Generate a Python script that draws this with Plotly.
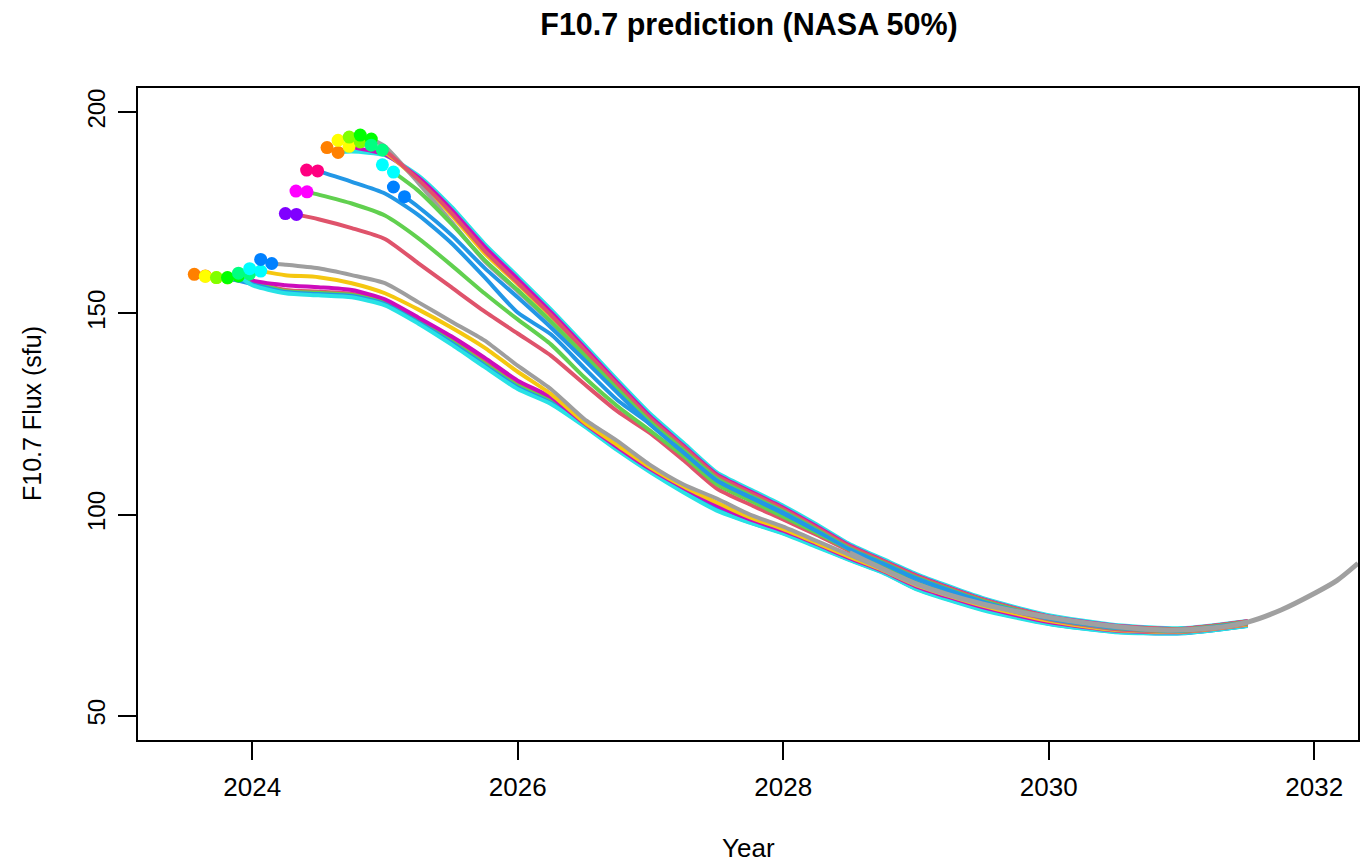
import plotly.graph_objects as go

# ---------------- data ----------------
grid = [2024.0, 2024.25, 2024.5, 2024.75, 2025.0, 2025.25, 2025.5, 2025.75,
        2026.0, 2026.25, 2026.5, 2026.75, 2027.0, 2027.25, 2027.5, 2027.75,
        2028.0, 2028.25, 2028.5, 2028.75, 2029.0, 2029.5, 2030.0, 2030.5,
        2031.0, 2031.5]

# start month of each forecast (first marker), and the two marker values
start_year = [2023.564, 2023.647, 2023.731, 2023.814, 2023.897, 2023.981, 2024.064,
              2024.25, 2024.33, 2024.41,
              2024.564, 2024.647, 2024.731, 2024.814, 2024.897, 2024.981, 2025.064]
marker_v1 = [159.7, 159.2, 158.9, 158.9, 160.0, 161.1, 163.4,
             174.8, 180.4, 185.6,
             191.2, 193.0, 193.8, 194.3, 191.8, 186.9, 181.4]
marker_v2 = [159.3, 158.9, 158.8, 159.3, 159.8, 160.5, 162.4,
             174.6, 180.2, 185.4,
             190.0, 191.5, 192.6, 193.3, 190.6, 185.1, 179.0]
marker_colors = ["#FF8000", "#FFFF00", "#80FF00", "#00FF00", "#00FF80", "#00FFFF", "#0080FF",
                 "#8000FF", "#FF00FF", "#FF0080",
                 "#FF8000", "#FFFF00", "#80FF00", "#00FF00", "#00FF80", "#00FFFF", "#0080FF"]
line_colors = ["#DF536B", "#61D04F", "#2297E6", "#28E2E5", "#CD0BBC", "#F5C710", "#9E9E9E",
               "#DF536B", "#61D04F", "#2297E6",
               "#28E2E5", "#CD0BBC", "#F5C710", "#9E9E9E", "#DF536B", "#61D04F", "#2297E6"]

N = None
s01 = [157.8, 155.8, 155.4, 154.9, 153.0, 148.5, 143.6, 138.0, 132.4, 128.6, 122.6, 116.7, 111.2, 106.3, 102.0, 98.5, 95.8, 92.5, 89.1, 85.9, 82.0, 76.8, 73.2, 71.1, 70.7, 72.5]
s02 = [157.6, 155.5, 155.1, 154.6, 152.6, 148.1, 143.1, 137.5, 132.0, 128.2, 122.4, 116.5, 111.0, 106.1, 101.7, 98.3, 95.6, 92.3, 88.9, 85.8, 81.8, 76.6, 73.0, 71.0, 70.6, 72.4]
s03 = [157.3, 155.3, 154.8, 154.3, 152.3, 147.8, 142.7, 137.1, 131.6, 127.8, 122.2, 116.3, 110.8, 105.8, 101.3, 98.1, 95.4, 92.2, 88.8, 85.7, 81.6, 76.5, 72.9, 70.9, 70.5, 72.4]
s04 = [157.0, 155.0, 154.5, 154.0, 152.0, 147.5, 142.3, 136.7, 131.2, 127.5, 122.0, 116.0, 110.5, 105.5, 101.0, 98.0, 95.3, 92.0, 88.7, 85.6, 81.5, 76.3, 72.8, 70.8, 70.5, 72.3]
s05 = [158.3, 157.0, 156.5, 155.8, 153.5, 149.0, 144.3, 139.0, 133.3, 129.2, 122.7, 116.8, 111.3, 106.6, 102.3, 98.8, 96.0, 92.7, 89.2, 86.0, 82.2, 77.0, 73.3, 71.2, 70.8, 72.6]
s06 = [N, 159.5, 159.0, 157.5, 155.0, 151.0, 146.5, 141.5, 135.5, 130.0, 123.0, 117.3, 111.7, 107.0, 103.0, 99.3, 96.4, 93.0, 89.5, 86.2, 82.5, 77.4, 73.6, 71.3, 70.9, 72.7]
s07 = [N, 162.1, 161.2, 159.5, 157.5, 152.8, 148.0, 143.3, 137.0, 131.2, 123.8, 118.3, 112.3, 107.5, 104.0, 100.0, 97.0, 93.5, 90.0, 86.5, 83.0, 78.0, 74.0, 71.5, 71.0, 73.0]
s08 = [N, N, 173.4, 171.2, 168.5, 162.5, 156.5, 150.5, 145.0, 139.5, 132.5, 125.7, 120.2, 113.5, 106.5, 102.5, 98.8, 95.0, 91.0, 87.5, 83.5, 78.0, 74.0, 71.6, 71.0, 72.9]
s09 = [N, N, 179.5, 177.3, 174.3, 168.7, 162.0, 155.0, 148.5, 142.3, 134.2, 127.0, 120.8, 114.5, 107.5, 103.5, 99.5, 95.5, 91.3, 87.7, 83.7, 78.3, 74.2, 71.8, 71.1, 73.0]
s10 = [N, N, N, 182.7, 179.8, 174.5, 167.5, 159.0, 150.2, 144.8, 136.5, 128.5, 122.5, 116.0, 108.5, 104.3, 100.3, 96.0, 91.8, 88.0, 84.0, 78.5, 74.3, 71.9, 71.2, 73.1]
s11 = [N, N, N, 190.2, 189.3, 184.3, 176.5, 167.3, 159.2, 151.0, 142.3, 133.5, 125.0, 117.8, 110.5, 106.3, 102.2, 97.6, 92.7, 89.0, 85.3, 79.3, 75.0, 72.6, 71.8, 73.6]
s12 = [N, N, N, 191.3, 189.5, 183.8, 175.8, 166.6, 158.5, 150.3, 141.6, 132.8, 124.3, 117.1, 110.0, 105.8, 101.7, 97.1, 92.3, 88.6, 84.9, 79.0, 74.7, 72.4, 71.6, 73.5]
s13 = [N, N, N, N, 190.0, 183.0, 174.5, 165.0, 157.3, 149.3, 140.8, 132.0, 123.6, 116.5, 109.4, 105.2, 101.2, 96.6, 91.9, 88.3, 84.6, 78.8, 74.5, 72.2, 71.5, 73.4]
s14 = [N, N, N, N, 191.5, 182.5, 172.8, 163.0, 155.5, 147.8, 139.5, 131.0, 122.8, 115.8, 108.8, 104.7, 100.7, 96.2, 91.5, 88.0, 84.3, 78.5, 74.3, 72.0, 71.4, 73.3]
s15 = [N, N, N, N, 190.4, 183.3, 175.0, 165.6, 157.6, 149.6, 141.0, 132.3, 123.9, 116.8, 109.7, 105.5, 101.4, 96.8, 92.1, 88.5, 84.8, 78.9, 74.6, 72.3, 71.6, 73.5]
s16 = [N, N, N, N, N, 180.5, 172.3, 163.3, 155.8, 148.0, 139.7, 131.2, 123.0, 116.0, 109.0, 104.8, 100.8, 96.3, 91.6, 88.1, 84.4, 78.6, 74.4, 72.1, 71.4, 73.3]
s17 = [N, N, N, N, N, 176.5, 169.5, 161.3, 154.0, 146.5, 138.5, 130.3, 122.3, 115.4, 108.5, 104.4, 100.5, 96.0, 91.4, 87.9, 84.2, 78.4, 74.2, 72.0, 71.3, 73.2]
series = [s01, s02, s03, s04, s05, s06, s07, s08, s09, s10, s11, s12, s13, s14, s15, s16, s17]

# NASA 50% reference continuation (grey, on top)
ref_years = [2028.5, 2029.0, 2029.5, 2030.0, 2030.5, 2030.9, 2031.25, 2031.5, 2031.75, 2032.0, 2032.17, 2032.33]
ref_vals = [90.5, 82.8, 77.8, 74.5, 72.2, 71.3, 71.9, 73.3, 76.3, 80.4, 83.6, 87.9]

# ---------------- figure ----------------
fig = go.Figure()
for i, vals in enumerate(series):
    t2 = start_year[i] + 1 / 12
    xs = [t2] + [g for g, v in zip(grid, vals) if v is not None and g > t2]
    ys = [marker_v2[i]] + [v for g, v in zip(grid, vals) if v is not None and g > t2]
    fig.add_trace(go.Scatter(x=xs, y=ys, mode="lines",
                             line=dict(color=line_colors[i], width=4, shape="spline", smoothing=0.6),
                             hoverinfo="skip", showlegend=False))

fig.add_trace(go.Scatter(x=ref_years, y=ref_vals, mode="lines",
                         line=dict(color="#A0A0A0", width=5, shape="spline", smoothing=0.8),
                         hoverinfo="skip", showlegend=False))

for i in range(len(series)):
    fig.add_trace(go.Scatter(x=[start_year[i], start_year[i] + 1 / 12],
                             y=[marker_v1[i], marker_v2[i]], mode="markers",
                             marker=dict(color=marker_colors[i], size=13, line=dict(width=0)),
                             hoverinfo="skip", showlegend=False))

axis_font = dict(family="Liberation Sans, Arial, sans-serif", size=25, color="#000000")
fig.update_layout(
    width=1368, height=864,
    margin=dict(l=138, r=8, t=88, b=124),
    paper_bgcolor="white", plot_bgcolor="white",
    font=axis_font,
    title=dict(text="<b>F10.7 prediction (NASA 50%)</b>", x=(138 + 1360) / 2 / 1368, xanchor="center",
               y=1 - 24 / 864, yanchor="middle",
               font=dict(family="Liberation Sans, Arial, sans-serif", size=30.5, color="#000000")),
    xaxis=dict(range=[2023.14, 2032.33], tickvals=[2024, 2026, 2028, 2030, 2032],
               ticktext=["2024", "2026", "2028", "2030", "2032"],
               showgrid=False, zeroline=False, showline=True, mirror=True,
               linecolor="#000000", linewidth=1.5, ticks="outside", ticklen=18, tickwidth=1.5,
               tickcolor="#000000", tickfont=dict(size=26), ticklabelstandoff=5),
    yaxis=dict(range=[44, 206], tickvals=[50, 100, 150, 200], showgrid=False, zeroline=False,
               showline=True, mirror=True, linecolor="#000000", linewidth=1.5,
               ticks="outside", ticklen=18, tickwidth=1.5, tickcolor="#000000",
               tickangle=-90, tickfont=dict(size=24), ticklabelstandoff=4),
    annotations=[
        dict(text="Year", xref="paper", yref="paper", x=0.5, y=0, yshift=-108,
             xanchor="center", yanchor="middle", showarrow=False, font=dict(size=26)),
        dict(text="F10.7 Flux (sfu)", xref="paper", yref="paper", x=0, y=0.5, xshift=-106,
             xanchor="center", yanchor="middle", textangle=-90, showarrow=False, font=dict(size=25)),
    ],
)

fig.write_html("out.html", config={"displayModeBar": False},
               post_script="document.body.style.margin='0';document.body.style.overflow='hidden';")
